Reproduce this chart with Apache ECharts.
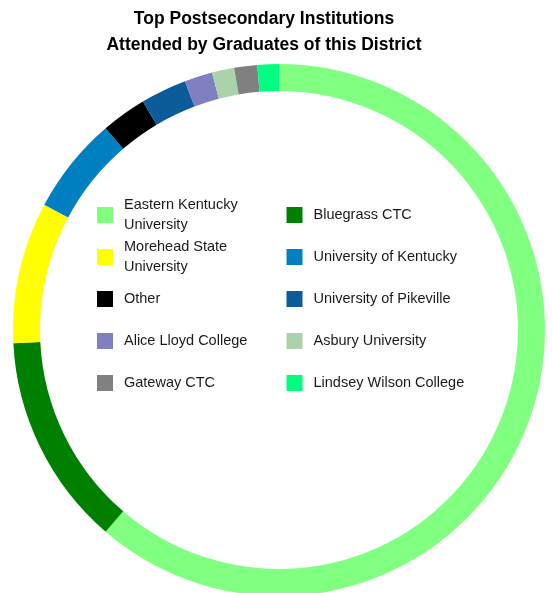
<!DOCTYPE html>
<html>
<head>
<meta charset="utf-8">
<script src="https://cdn.jsdelivr.net/npm/echarts@6/dist/echarts.min.js"></script>
<style>
html,body{margin:0;padding:0;background:#fff;}
#chart{width:552px;height:593px;}
</style>
</head>
<body>
<div id="chart"></div>
<script>
// schools in clockwise order from 12 o'clock
var schools = ['Eastern Kentucky University','Bluegrass CTC','Morehead State University','University of Kentucky','Other','University of Pikeville','Alice Lloyd College','Asbury University','Gateway CTC','Lindsey Wilson College'];
var shares = [61.3, 12.9, 8.6, 5.9, 2.75, 2.8, 1.7, 1.35, 1.4, 1.3];
var colors = ['#80ff80','#008000','#ffff00','#0080c0','#000000','#0b5c99','#8080c0','#aad3ab','#808080','#00ff80'];

var chart = echarts.init(document.getElementById('chart'));

var pieData = [];
schools.forEach(function(name, i){
	pieData.push({name: name, value: shares[i], itemStyle: {color: colors[i]}});
});

// legend: two columns, built as one row-legend per pair
var legendFont = {
	fontFamily: '"Liberation Sans", Arial, sans-serif',
	fontSize: 14.5,
	color: '#1a1a1a',
	lineHeight: 20,
	width: 160,
	overflow: 'break',
	padding: [0, 0, 0, 6]
};
var legends = [];
for (var r = 0; r < 5; r++) {
	var center = 215 + r * 42;
	var twoLine = r < 2;
	legends.push({
		orient: 'horizontal',
		left: 97,
		top: center - (twoLine ? 20 : 10),
		padding: 0,
		itemWidth: 16,
		itemHeight: 16,
		itemGap: 2.5,
		icon: 'rect',
		textStyle: legendFont,
		selectedMode: false,
		data: [schools[r * 2], schools[r * 2 + 1]]
	});
}

var option = {
	animation: false,
	title: {
		text: 'Top Postsecondary Institutions\nAttended by Graduates of this District',
		left: 259,
		top: 1,
		textAlign: 'center',
		textStyle: {
			fontFamily: '"Liberation Sans", Arial, sans-serif',
			fontSize: 17.5,
			fontWeight: 'bold',
			color: '#000',
			lineHeight: 26
		}
	},
	legend: legends,
	series: [{
		type: 'pie',
		center: [279, 330],
		radius: [239, 266],
		startAngle: 90,
		clockwise: true,
		label: {show: false},
		labelLine: {show: false},
		emphasis: {scale: false},
		itemStyle: {borderWidth: 0},
		data: pieData
	}]
};
chart.setOption(option, true);
</script>
</body>
</html>
